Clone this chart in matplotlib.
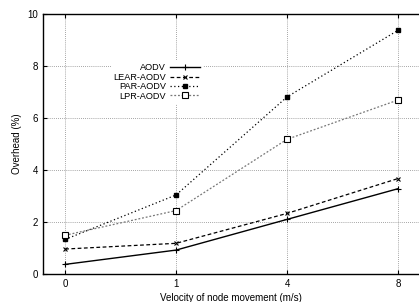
import matplotlib
matplotlib.use('Agg')
import matplotlib.pyplot as plt
import numpy as np

plt.rcParams['font.family'] = ['Liberation Sans', 'DejaVu Sans']

velocity = ['0', '1', '4', '8']
aodv = [0.37, 0.92, 2.1, 3.28]
lear_aodv = [0.96, 1.18, 2.33, 3.67]
par_aodv = [1.33, 3.04, 6.81, 9.37]
lpr_aodv = [1.49, 2.44, 5.18, 6.69]

x = np.arange(len(velocity))

fig = plt.figure(figsize=(4.19, 3.02), dpi=100)
ax = fig.add_axes([0.1026, 0.0927, 0.8974, 0.861])

ax.plot(x, aodv, color='black', lw=1.0, ls='-', marker='+', ms=4, mew=0.8, label='AODV')
ax.plot(x, lear_aodv, color='black', lw=0.9, ls=(0, (3, 2)), marker='x', ms=3.5, mew=0.8, label='LEAR-AODV')
ax.plot(x, par_aodv, color='black', lw=0.9, ls=(0, (1, 2)), marker='s', ms=3.5, mfc='black', label='PAR-AODV')
ax.plot(x, lpr_aodv, color='#777777', lw=0.9, ls=(0, (1.5, 1.5)), marker='s', ms=4, mfc='white', mec='black', mew=0.8, label='LPR-AODV')

ax.set_xlim(-0.2, 3.19)
ax.set_ylim(0, 10)
ax.set_xticks(x)
ax.set_xticklabels(velocity)
ax.set_yticks([0, 2, 4, 6, 8, 10])
ax.grid(True, color='#888888', ls=(0, (1, 1.5)), lw=0.6)
ax.tick_params(direction='in', length=3, labelsize=7, top=True, right=False)
ax.spines['right'].set_visible(False)
for s in ['left', 'top', 'bottom']:
    ax.spines[s].set_linewidth(1.0)

ax.set_xlabel('Velocity of node movement (m/s)', fontsize=7, labelpad=3)
ax.set_ylabel('Overhead (%)', fontsize=7, labelpad=4)

leg = ax.legend(loc='upper right', bbox_to_anchor=(0.435, 0.835), fontsize=6.6, markerfirst=False,
                frameon=True, framealpha=1, edgecolor='white', fancybox=False,
                handlelength=3.3, handletextpad=0.4, labelspacing=0.05, borderpad=0.2)

fig.savefig('out.png', dpi=100)
